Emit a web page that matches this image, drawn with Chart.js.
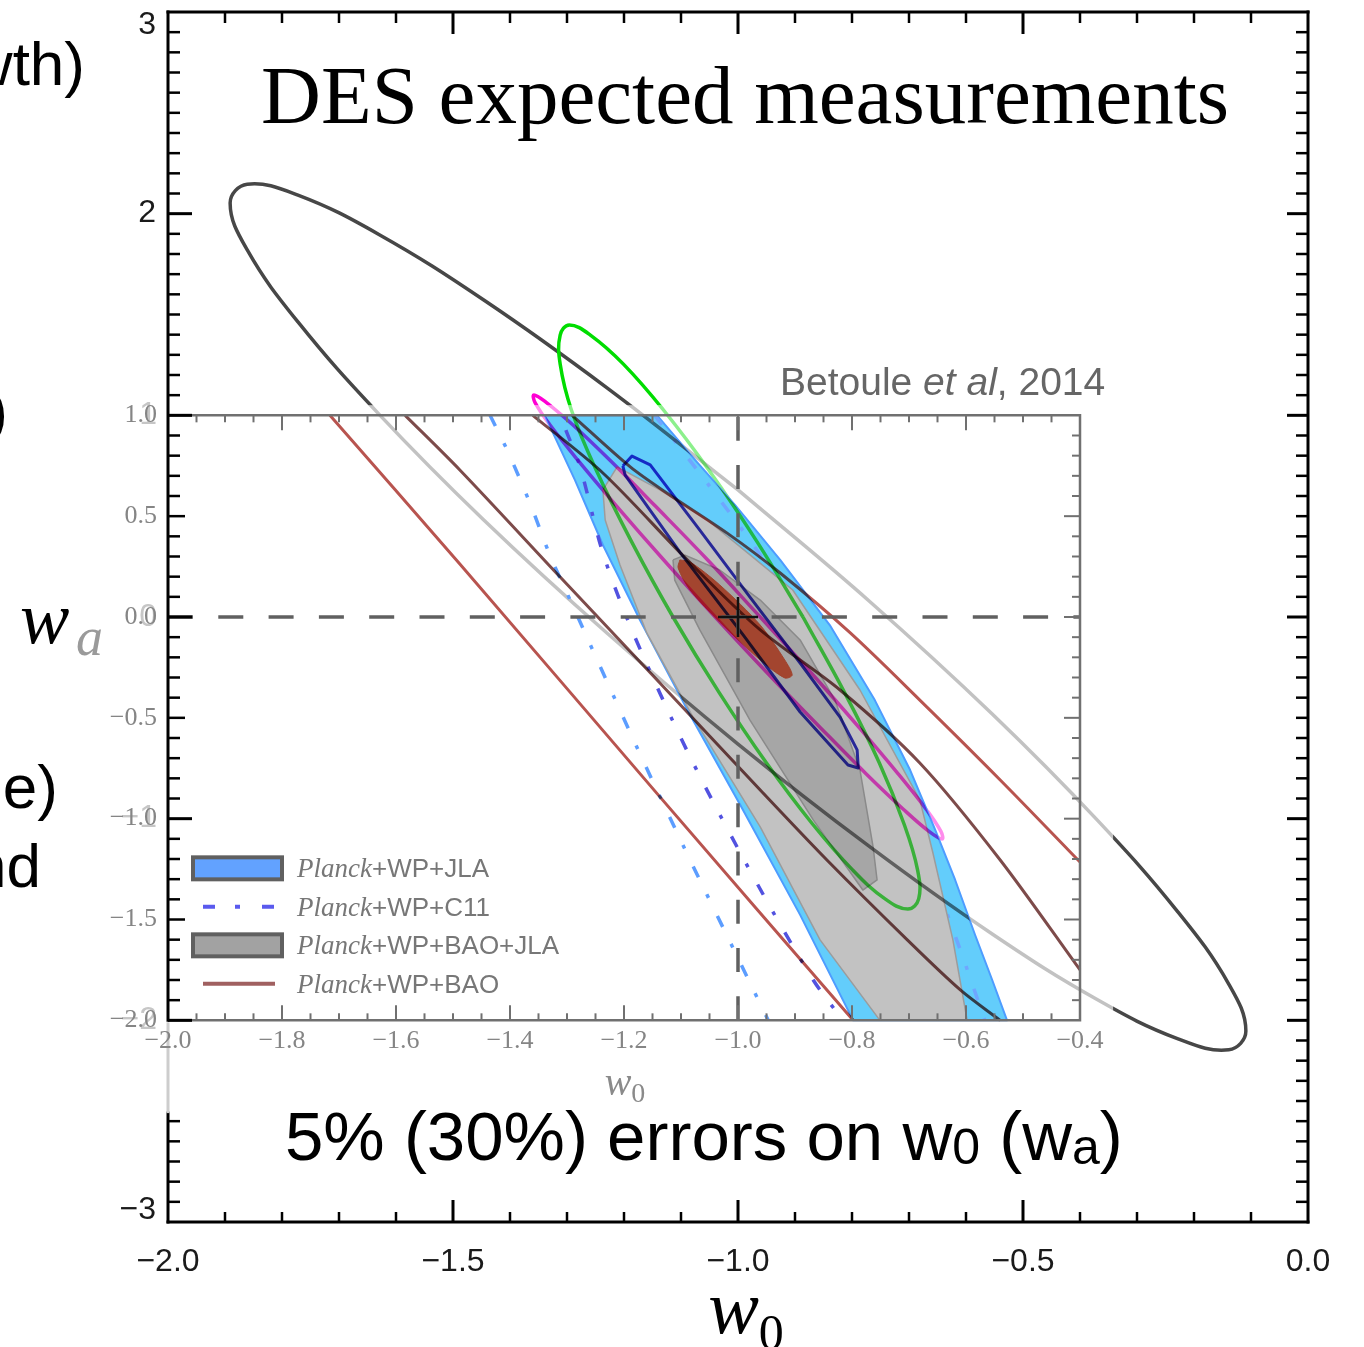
<!DOCTYPE html>
<html lang="en">
<head>
<meta charset="UTF-8">
<title>DES expected measurements</title>
<script src="https://cdn.jsdelivr.net/npm/chart.js"></script>
<style>
  html, body { margin: 0; padding: 0; background: #fff; }
  #chart { display: block; }
</style>
</head>
<body>
<canvas id="chart" width="1364" height="1347"></canvas>
<script>
// ---------- contour outlines, (w0, wa) pairs ----------
// DES forecast, wide ellipse
const desWideW0 = [-1.0,-1.231,-1.446,-1.630,-1.772,-1.861,-1.891,-1.861,-1.772,-1.630,-1.446,-1.231,-1.0,-0.769,-0.554,-0.370,-0.228,-0.139,-0.109,-0.139,-0.228,-0.370,-0.554,-0.769];
const desWideWa = [0.630,1.139,1.572,1.897,2.092,2.146,2.053,1.820,1.463,1.006,0.481,-0.077,-0.630,-1.139,-1.572,-1.897,-2.092,-2.146,-2.053,-1.820,-1.463,-1.006,-0.481,0.077];
// DES forecast, green ellipse
const desGreenW0 = [-0.886,-0.813,-0.752,-0.709,-0.685,-0.683,-0.702,-0.742,-0.799,-0.870,-0.950,-1.033,-1.114,-1.187,-1.248,-1.292,-1.312,-1.312,-1.296,-1.259,-1.201,-1.130,-1.050,-0.967];
const desGreenWa = [0,-0.375,-0.724,-1.024,-1.254,-1.398,-1.448,-1.398,-1.254,-1.024,-0.724,-0.375,0,0.375,0.724,1.024,1.254,1.398,1.448,1.398,1.254,1.024,0.724,0.375];
// DES forecast, magenta ellipse
const desPinkW0 = [-0.961,-0.869,-0.787,-0.719,-0.670,-0.644,-0.642,-0.665,-0.710,-0.775,-0.855,-0.946,-1.040,-1.131,-1.213,-1.281,-1.330,-1.356,-1.358,-1.336,-1.290,-1.225,-1.145,-1.054];
const desPinkWa = [0,-0.285,-0.550,-0.778,-0.953,-1.063,-1.101,-1.063,-0.953,-0.778,-0.550,-0.285,0,0.285,0.550,0.778,0.953,1.063,1.101,1.063,0.953,0.778,0.550,0.285];
// DES forecast, dark blue contour
const desBlueW0 = [-1.202,-1.186,-1.154,-1.067,-0.979,-0.891,-0.821,-0.791,-0.789,-0.807,-0.891,-0.991,-1.102,-1.198];
const desBlueWa = [0.749,0.798,0.754,0.431,0.099,-0.228,-0.496,-0.659,-0.749,-0.734,-0.471,-0.089,0.322,0.704];
// DES forecast, filled core
const desCoreW0 = [-1.102,-1.084,-1.032,-0.961,-0.918,-0.905,-0.918,-0.961,-1.032,-1.084,-1.105];
const desCoreWa = [0.283,0.273,0.159,-0.040,-0.213,-0.288,-0.302,-0.213,-0.025,0.134,0.243];

// Planck+WP+JLA (inset, clipped at the inset frame)
const jlaW0 = [-1.339,-1.142,-1.075,-1.005,-0.926,-0.839,-0.760,-0.698,-0.654,-0.619,-0.584,-0.554,-0.528,-0.798,-0.891,-0.996,-1.084,-1.172,-1.237,-1.286];
const jlaWa = [1.0,1.0,0.778,0.555,0.283,-0.040,-0.412,-0.759,-1.056,-1.304,-1.577,-1.800,-2.0,-2.0,-1.477,-0.932,-0.486,-0.015,0.357,0.679];
// Planck+WP+BAO+JLA, 2 sigma and 1 sigma
const baoJlaOuterW0 = [-1.212,-1.137,-1.054,-0.974,-0.904,-0.786,-0.681,-0.658,-0.623,-0.598,-0.751,-0.856,-0.961,-1.079,-1.160,-1.207,-1.233,-1.237];
const baoJlaOuterWa = [0.744,0.630,0.481,0.297,0.134,-0.362,-0.907,-1.170,-1.601,-2.0,-2.0,-1.601,-1.041,-0.496,-0.079,0.258,0.481,0.630];
const baoJlaInnerW0 = [-1.114,-1.093,-1.032,-0.961,-0.891,-0.830,-0.786,-0.763,-0.756,-0.781,-0.868,-0.979,-1.067,-1.111];
const baoJlaInnerWa = [0.283,0.307,0.233,0.084,-0.114,-0.412,-0.759,-1.140,-1.304,-1.354,-1.006,-0.511,-0.064,0.183];
// Planck+WP+BAO edges
const baoOuterLeftW0 = [-1.716,-1.488,-1.137,-0.798];
const baoOuterLeftWa = [1.0,0.263,-0.892,-2.0];
const baoOuterRightW0 = [-1.291,-1.189,-1.125,-1.019,-0.926,-0.803,-0.681,-0.540,-0.4];
const baoOuterRightWa = [1.0,0.744,0.615,0.416,0.218,-0.079,-0.412,-0.808,-1.215];
const baoInnerLeftW0 = [-1.584,-1.488,-1.312,-1.137,-0.961,-0.844,-0.703,-0.610,-0.540];
const baoInnerLeftWa = [1.0,0.729,0.198,-0.327,-0.858,-1.205,-1.601,-1.849,-2.0];
const baoInnerRightW0 = [-1.360,-1.237,-1.089,-0.961,-0.821,-0.681,-0.540,-0.4];
const baoInnerRightWa = [1.0,0.714,0.283,-0.064,-0.362,-0.724,-1.205,-1.750];
// Planck+WP+C11 edges
const c11OuterLeftW0 = [-1.435,-1.405,-1.365,-1.330,-1.289,-1.247,-1.167,-1.084,-0.996,-0.947];
const c11OuterLeftWa = [1.0,0.828,0.565,0.307,0.050,-0.213,-0.709,-1.205,-1.715,-2.0];
const c11InnerLeftW0 = [-1.302,-1.277,-1.237,-1.184,-1.084,-0.967,-0.868,-0.816];
const c11InnerLeftWa = [0.927,0.744,0.317,-0.079,-0.694,-1.319,-1.800,-2.0];
const c11OuterRightW0 = [-1.146,-1.054,-0.961,-0.856,-0.751,-0.663,-0.610,-0.567];
const c11OuterRightWa = [1.0,0.664,0.307,-0.164,-0.709,-1.254,-1.651,-2.0];

// fiducial cosmological constant
const fiducialW0 = [-1.0];
const fiducialWa = [0.0];

// axis ranges
const outerW0Range = [-2.0, 0.0];
const outerWaRange = [-3, 3];
const insetW0Range = [-2.0, -0.4];
const insetWaRange = [-2.0, 1.0];
// region washed out by the pasted inset
const shadeW0 = [-2.0, -0.342];
const shadeWa = [-2.46, 1.05];

const legendRows = [
  { name: 'Planck', rest: '+WP+JLA', kind: 'box', color: '#62a2ff' },
  { name: 'Planck', rest: '+WP+C11', kind: 'dashdot', color: '#5a5aee' },
  { name: 'Planck', rest: '+WP+BAO+JLA', kind: 'box', color: '#a2a2a2' },
  { name: 'Planck', rest: '+WP+BAO', kind: 'line', color: '#a06060' }
];

// ---------- helpers ----------
const pts = (w0, wa) => w0.map((x, i) => ({ x, y: wa[i] }));
const loop = (w0, wa) => { const p = pts(w0, wa); p.push({ x: w0[0], y: wa[0] }); return p; };
const fmt = v => (v < -1e-9 ? '\u2212' : '') + Math.abs(v).toFixed(1);

function line(data, style) {
  return Object.assign({
    data, showLine: true, fill: false, pointRadius: 0, pointHoverRadius: 0,
    borderWidth: 3, tension: 0, borderCapStyle: 'butt', borderJoinStyle: 'round'
  }, style);
}

const desShapes = [
  { w0: desWideW0, wa: desWideWa, color: '#474747', light: 0.33 },
  { w0: desGreenW0, wa: desGreenWa, color: '#00dd00', light: 0.45 },
  { w0: desPinkW0, wa: desPinkWa, color: '#ff00d4', light: 0.45 }
];

const datasets = [];
// DES contours outside the inset
desShapes.forEach((s, i) => datasets.push(line(loop(s.w0, s.wa),
  { borderColor: s.color, borderWidth: 3.5, tension: 0.4, region: 'outside', order: 100 - i })));
// same contours faded behind the inset
desShapes.forEach((s, i) => datasets.push(line(loop(s.w0, s.wa),
  { borderColor: s.color, borderWidth: 3.5, tension: 0.4, region: 'inside', alpha: s.light, order: 97 - i })));

datasets.push(line(loop(jlaW0, jlaWa),
  { key: 'jla', borderColor: '#4e9cff', borderWidth: 2, backgroundColor: '#63cdfb', fill: 'shape', order: 90 }));

datasets.push(line(pts(c11OuterLeftW0, c11OuterLeftWa),
  { borderColor: '#5c9dff', borderWidth: 3.5, borderDash: [12, 19, 4, 20], tension: 0.3, order: 85 }));
datasets.push(line(pts(c11InnerLeftW0, c11InnerLeftWa),
  { borderColor: '#5252e0', borderWidth: 3.5, borderDash: [12, 19, 4, 20], tension: 0.3, order: 84 }));
datasets.push(line(pts(c11OuterRightW0, c11OuterRightWa),
  { borderColor: '#6fa6ff', borderWidth: 3.5, borderDash: [12, 19, 4, 20], tension: 0.3, order: 83 }));

datasets.push(line(loop(baoJlaOuterW0, baoJlaOuterWa),
  { borderColor: '#9c9c9c', borderWidth: 1.5, backgroundColor: '#c2c2c2', fill: 'shape', order: 80 }));
datasets.push(line(loop(baoJlaInnerW0, baoJlaInnerWa),
  { borderColor: '#8a8a8a', borderWidth: 1.5, backgroundColor: '#a6a6a6', fill: 'shape', order: 79 }));

datasets.push(line(loop(desCoreW0, desCoreWa),
  { borderColor: '#a0432d', borderWidth: 1, backgroundColor: '#a3452f', fill: 'shape', tension: 0.3, order: 75 }));

[[baoOuterLeftW0, baoOuterLeftWa, '#b8544f'], [baoOuterRightW0, baoOuterRightWa, '#b8544f'],
 [baoInnerLeftW0, baoInnerLeftWa, '#7d4b4a'], [baoInnerRightW0, baoInnerRightWa, '#7d4b4a']]
  .forEach(([w0, wa, c], i) => datasets.push(line(pts(w0, wa),
    { borderColor: c, borderWidth: 3, tension: 0.3, blend: 'multiply', order: 70 - i })));

datasets.push(line(loop(desBlueW0, desBlueWa),
  { borderColor: '#3434c8', borderWidth: 3, blend: 'multiply', order: 60 }));

// DES contours again where they cross the filled regions
desShapes.forEach((s, i) => datasets.push(line(loop(s.w0, s.wa),
  { borderColor: s.color, borderWidth: 3.5, tension: 0.4, region: 'overFill', blend: 'multiply', alpha: 0.7, order: 55 - i })));

// fiducial w0 = -1, wa = 0
datasets.push(line(pts([fiducialW0[0], fiducialW0[0]], insetWaRange),
  { borderColor: '#606060', borderWidth: 3.5, borderDash: [24, 24.3], order: 50 }));
datasets.push(line(pts(insetW0Range, [fiducialWa[0], fiducialWa[0]]),
  { borderColor: '#606060', borderWidth: 3.5, borderDash: [25, 25.3], order: 49 }));
datasets.push({ data: pts(fiducialW0, fiducialWa), showLine: false, pointStyle: 'cross',
  pointRadius: 20, pointHoverRadius: 20, borderColor: '#111', borderWidth: 2.5, order: 40 });

// ---------- plugins ----------
// per-dataset clipping, opacity and blend mode
const layers = {
  id: 'layers',
  beforeDatasetDraw(chart, args) {
    const ds = chart.data.datasets[args.index];
    if (!ds.region && !ds.blend && ds.alpha == null) return;
    const ctx = chart.ctx, a = chart.chartArea;
    const X = v => chart.scales.x.getPixelForValue(v), Y = v => chart.scales.y.getPixelForValue(v);
    ctx.save();
    if (ds.region) {
      const sx0 = X(shadeW0[0]) - 80, sx1 = X(shadeW0[1]);
      const sy0 = Y(shadeWa[1]), sy1 = Y(shadeWa[0]);
      ctx.beginPath();
      if (ds.region === 'outside') {
        ctx.rect(a.left - 10, a.top - 10, a.right - a.left + 20, a.bottom - a.top + 20);
        ctx.rect(sx0, sy0, sx1 - sx0, sy1 - sy0);
        ctx.clip('evenodd');
      } else if (ds.region === 'inside') {
        ctx.rect(sx0, sy0, sx1 - sx0, sy1 - sy0);
        ctx.clip();
      } else {
        const idx = chart.data.datasets.findIndex(d => d.key === 'jla');
        chart.getDatasetMeta(idx).data.forEach((p, i) => i ? ctx.lineTo(p.x, p.y) : ctx.moveTo(p.x, p.y));
        ctx.closePath();
        ctx.clip();
      }
    }
    if (ds.blend) ctx.globalCompositeOperation = ds.blend;
    if (ds.alpha != null) ctx.globalAlpha = ds.alpha;
  },
  afterDatasetDraw(chart, args) {
    const ds = chart.data.datasets[args.index];
    if (!ds.region && !ds.blend && ds.alpha == null) return;
    chart.ctx.restore();
  }
};

function seg(ctx, x1, y1, x2, y2) {
  ctx.beginPath(); ctx.moveTo(x1, y1); ctx.lineTo(x2, y2); ctx.stroke();
}

function runs(ctx, x, y, parts, align) {
  let total = 0;
  parts.forEach(p => { ctx.font = p.font; p.w = ctx.measureText(p.text).width; total += p.w; });
  let cx = align === 'right' ? x - total : align === 'center' ? x - total / 2 : x;
  parts.forEach(p => {
    ctx.font = p.font; ctx.fillStyle = p.color || '#000';
    ctx.fillText(p.text, cx, y + (p.dy || 0));
    cx += p.w;
  });
}

// frames, inward ticks, inset axes, legend and annotations
const decor = {
  id: 'decor',
  afterDatasetsDraw(chart) {
    const ctx = chart.ctx, a = chart.chartArea;
    const X = v => chart.scales.x.getPixelForValue(v), Y = v => chart.scales.y.getPixelForValue(v);
    ctx.save();
    ctx.lineCap = 'butt';

    // inset frame and ticks
    const il = X(insetW0Range[0]), ir = X(insetW0Range[1]);
    const it = Y(insetWaRange[1]), ib = Y(insetWaRange[0]);
    ctx.strokeStyle = '#707070';
    ctx.lineWidth = 2.5;
    ctx.beginPath(); ctx.moveTo(il, it); ctx.lineTo(ir, it); ctx.lineTo(ir, ib); ctx.lineTo(il, ib); ctx.stroke();
    ctx.lineWidth = 2;
    for (let k = 1; k < 32; k++) {
      const px = X(insetW0Range[0] + k * 0.05), len = k % 4 === 0 ? 15 : 7;
      seg(ctx, px, it, px, it + len);
      seg(ctx, px, ib, px, ib - len);
    }
    for (let j = -19; j <= 9; j++) {
      const py = Y(j / 10), len = j % 5 === 0 ? 16 : 8;
      seg(ctx, ir, py, ir - len, py);
    }

    // outer frame
    const shadeBottom = Y(shadeWa[0]);
    ctx.strokeStyle = '#000';
    ctx.lineWidth = 3;
    ctx.lineCap = 'square';
    seg(ctx, a.left, a.top, a.right, a.top);
    seg(ctx, a.right, a.top, a.right, a.bottom);
    seg(ctx, a.left, a.bottom, a.right, a.bottom);
    seg(ctx, a.left, a.top, a.left, ib);
    seg(ctx, a.left, shadeBottom, a.left, a.bottom);
    ctx.strokeStyle = '#cdcdcd';
    ctx.lineCap = 'butt';
    seg(ctx, a.left, ib + 2, a.left, shadeBottom);

    // outer ticks, pointing inward
    ctx.strokeStyle = '#000';
    for (let i = -19; i <= -1; i++) {
      const px = X(i / 10), major = i % 5 === 0;
      ctx.lineWidth = major ? 3 : 2.5;
      seg(ctx, px, a.top, px, a.top + (major ? 22 : 11));
      seg(ctx, px, a.bottom, px, a.bottom - (major ? 22 : 10));
    }
    for (let j = -29; j <= 29; j++) {
      const v = j / 10, py = Y(v), major = j % 10 === 0;
      ctx.lineWidth = major ? 3 : 2.5;
      seg(ctx, a.right, py, a.right - (major ? 21 : 12), py);
      if (v < insetWaRange[0] && v > shadeWa[0]) continue;
      const len = major ? 24 : (j % 5 === 0 && v >= insetWaRange[0] && v <= insetWaRange[1] ? 17 : 12);
      seg(ctx, a.left, py, a.left + len, py);
    }

    // legend inside the inset
    const lx = il + 25, ly = ib - 152, step = 38.5;
    legendRows.forEach((r, i) => {
      const cy = ly + i * step;
      if (r.kind === 'box') {
        ctx.fillStyle = r.color;
        ctx.fillRect(lx, cy - 11, 89, 22);
        ctx.strokeStyle = '#606060'; ctx.lineWidth = 4;
        ctx.strokeRect(lx, cy - 11, 89, 22);
      } else {
        ctx.strokeStyle = r.color; ctx.lineWidth = 4;
        ctx.setLineDash(r.kind === 'dashdot' ? [12, 20, 5, 22] : []);
        seg(ctx, lx + 10, cy, lx + 82, cy);
        ctx.setLineDash([]);
      }
      ctx.textBaseline = 'alphabetic';
      runs(ctx, lx + 104, cy + 9, [
        { text: r.name, font: 'italic 27px "Liberation Serif"', color: '#777' },
        { text: r.rest, font: '26px "Liberation Sans"', color: '#777' }
      ]);
    });
    ctx.restore();
  },

  afterDraw(chart) {
    const ctx = chart.ctx, a = chart.chartArea;
    const X = v => chart.scales.x.getPixelForValue(v), Y = v => chart.scales.y.getPixelForValue(v);
    ctx.save();

    // inset tick labels
    ctx.textBaseline = 'middle';
    ctx.textAlign = 'center';
    ctx.font = '26px "Liberation Serif"';
    ctx.fillStyle = '#858585';
    for (let k = 0; k <= 8; k++) {
      const v = insetW0Range[0] + k * 0.2;
      ctx.fillText(fmt(v), X(v), Y(insetWaRange[0]) + 21);
    }
    ctx.textAlign = 'right';
    ctx.font = '32px "Liberation Sans"';
    ctx.fillStyle = '#c6c6c6';
    [1, 0, -1, -2].forEach(v => ctx.fillText(v < 0 ? '\u2212' + (-v) : String(v), a.left - 11, Y(v)));
    ctx.font = '26px "Liberation Serif"';
    ctx.fillStyle = '#858585';
    for (let j = -4; j <= 2; j++) ctx.fillText(fmt(j * 0.5), a.left - 11, Y(j * 0.5));

    // outer y labels
    ctx.font = '32px "Liberation Sans"';
    ctx.fillStyle = '#1a1a1a';
    ctx.fillText('3', a.left - 12, Y(outerWaRange[1]) + 13);
    ctx.fillText('2', a.left - 12, Y(2));
    ctx.fillText('\u22123', a.left - 12, Y(outerWaRange[0]) - 12);

    ctx.textAlign = 'left';
    ctx.textBaseline = 'alphabetic';

    // axis titles
    runs(ctx, 20, 643, [{ text: 'w', font: 'italic 74px "Liberation Serif"', color: '#000' }]);
    runs(ctx, 76, 655, [{ text: 'a', font: 'italic 54px "Liberation Serif"', color: '#9a9a9a' }]);
    runs(ctx, X(-1.0) + 8, 1333, [
      { text: 'w', font: 'italic 76px "Liberation Serif"', color: '#000' },
      { text: '0', font: '50px "Liberation Serif"', color: '#000', dy: 16 }
    ], 'center');
    runs(ctx, X(-1.2) + 1, 1095, [
      { text: 'w', font: 'italic 40px "Liberation Serif"', color: '#8a8a8a' },
      { text: '0', font: '28px "Liberation Serif"', color: '#8a8a8a', dy: 7 }
    ], 'center');

    // annotations
    runs(ctx, 745, 123, [{ text: 'DES expected measurements', font: '83px "Liberation Serif"', color: '#000' }], 'center');
    runs(ctx, 780, 395, [
      { text: 'Betoule ', font: '39px "Liberation Sans"', color: '#666' },
      { text: 'et al', font: 'italic 39px "Liberation Sans"', color: '#666' },
      { text: ', 2014', font: '39px "Liberation Sans"', color: '#666' }
    ]);
    runs(ctx, 285, 1160, [
      { text: '5% (30%) errors on w', font: '69px "Liberation Sans"' },
      { text: '0', font: '50px "Liberation Sans"', dy: 4 },
      { text: ' (w', font: '69px "Liberation Sans"' },
      { text: 'a', font: '50px "Liberation Sans"', dy: 4 },
      { text: ')', font: '69px "Liberation Sans"' }
    ]);

    // slide text running in from the left
    const side = '62px "Liberation Sans"';
    runs(ctx, 85, 85, [{ text: 'wth)', font: side }], 'right');
    runs(ctx, 8, 432, [{ text: ')', font: side }], 'right');
    runs(ctx, 58, 808, [{ text: 'e)', font: side }], 'right');
    runs(ctx, 41, 887, [{ text: 'nd', font: side }], 'right');
    ctx.restore();
  }
};

new Chart(document.getElementById('chart'), {
  type: 'scatter',
  data: { datasets },
  options: {
    responsive: false,
    animation: false,
    devicePixelRatio: 1,
    events: [],
    layout: { autoPadding: false, padding: { top: 12, right: 56, left: 0, bottom: 0 } },
    plugins: { legend: { display: false }, tooltip: { enabled: false } },
    scales: {
      x: {
        type: 'linear', min: outerW0Range[0], max: outerW0Range[1],
        afterFit: s => { s.height = 125; },
        grid: { display: false, drawTicks: false },
        border: { display: false },
        ticks: {
          stepSize: 0.5, padding: 21, color: '#1a1a1a', maxRotation: 0, autoSkip: false,
          font: { family: 'Liberation Sans', size: 32 },
          callback: v => fmt(v)
        }
      },
      y: {
        type: 'linear', min: outerWaRange[0], max: outerWaRange[1],
        afterFit: s => { s.width = 168; },
        grid: { display: false, drawTicks: false },
        border: { display: false },
        ticks: { display: false }
      }
    }
  },
  plugins: [layers, decor]
});
</script>
</body>
</html>
